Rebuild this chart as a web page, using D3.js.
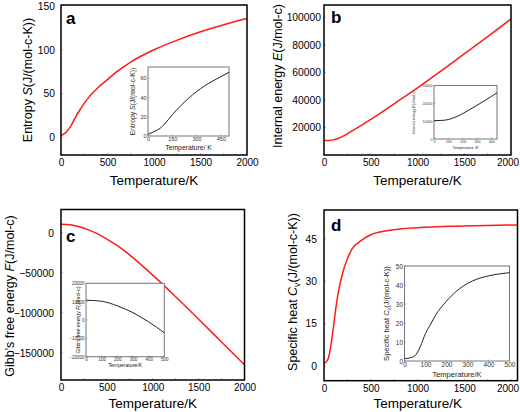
<!DOCTYPE html>
<html><head><meta charset="utf-8">
<script src="https://cdn.jsdelivr.net/npm/d3@7"></script>
<style>body{margin:0;background:#fff}svg{display:block;font-family:"Liberation Sans",Arial,Helvetica,sans-serif}</style>
</head><body><svg id="c" width="520" height="412"></svg>
<script>
// ---------- data ----------
const tempTicks = [0, 500, 1000, 1500, 2000];

const sT = [0, 50, 100, 150, 200, 300, 400, 500, 600, 750, 1000, 1250, 1500, 1750, 2000];
const sVal = [2, 5.5, 12, 22, 31, 46, 57, 66, 75, 86, 100, 111, 120.5, 128.5, 135.5];
const sTicks = [0, 50, 100, 150];
const sInT = [0, 25, 50, 75, 100, 150, 200, 250, 300, 350, 400, 450, 500];
const sInVal = [1.8, 3.5, 5.5, 8, 12, 22, 31, 39, 46, 52, 57, 61.5, 66];
const sInXTicks = [0, 150, 300, 450];
const sInYTicks = [0, 20, 40, 60];

const eT = [0, 50, 100, 150, 200, 300, 400, 500, 600, 750, 1000, 1250, 1500, 1750, 2000];
const eVal = [10500, 10600, 11000, 12000, 13500, 17500, 21500, 25800, 30300, 37200, 48800, 61000, 73500, 86000, 98800];
const eTicks = [20000, 40000, 60000, 80000, 100000];
const eInT = [0, 50, 100, 150, 200, 250, 300, 350, 400, 440];
const eInVal = [10300, 10400, 10900, 12300, 14200, 16500, 18900, 21300, 23800, 25900];
const eInXTicks = [0, 100, 200, 300, 400];
const eInYTicks = [0, 10000, 20000, 30000];

const fT = [0, 100, 200, 300, 400, 500, 600, 750, 1000, 1250, 1500, 1750, 2000];
const fVal = [10500, 10000, 7500, 3500, -1500, -8000, -15000, -28000, -53000, -80000, -108000, -136500, -165000];
const fTicks = [0, -50000, -100000, -150000];
const fInT = [0, 50, 100, 150, 200, 250, 300, 350, 400, 450, 500];
const fInVal = [10800, 10600, 10200, 9200, 7700, 6000, 4000, 1600, -1000, -3900, -7000];
const fInXTicks = [0, 100, 200, 300, 400, 500];
const fInYTicks = [-20000, -10000, 0, 10000, 20000];

const cT = [0, 25, 50, 75, 100, 125, 150, 200, 250, 300, 400, 500, 750, 1000, 1500, 2070];
const cVal = [1, 1.4, 3, 7.5, 13.5, 20, 25.5, 33, 38, 41.5, 44.5, 46.5, 48.3, 49, 49.6, 50];
const cTicks = [0, 15, 30, 45];
const cInT = [0, 25, 50, 75, 100, 125, 150, 200, 250, 300, 350, 400, 450, 500];
const cInVal = [1.3, 1.6, 2.8, 7.5, 14.5, 19.5, 24.5, 31.5, 37, 40.8, 43.3, 44.8, 45.8, 46.5];
const cInXTicks = [0, 100, 200, 300, 400, 500];
const cInYTicks = [0, 10, 20, 30, 40, 50];

// ---------- drawing ----------
const svg = d3.select("#c");
const fmt = v => (v < 0 ? "\u2212" + Math.abs(v) : String(v));

function richText(g, parts, size) {
  const t = g.append("text").attr("font-size", size).attr("fill", "#000");
  parts.forEach(p => {
    const ts = t.append("tspan").text(p.t);
    if (p.i) ts.attr("font-style", "italic");
    if (p.sub) ts.attr("font-size", size * 0.7).attr("dy", size * 0.25);
    if (p.after) ts.attr("dy", -size * 0.25);
  });
  return t;
}

function panel(o) {
  const x = d3.scaleLinear().domain(o.xd).range([o.x0, o.x1]);
  const y = d3.scaleLinear().domain(o.yd).range([o.y1, o.y0]);
  const g = svg.append("g");
  const minor = d3.range(0, o.xd[1] + 1, 250);
  g.append("g").selectAll("line").data(minor).join("line")
    .attr("x1", d => x(d)).attr("x2", d => x(d)).attr("y1", o.y1).attr("y2", o.y1 - 2)
    .attr("stroke", "#888").attr("stroke-width", 0.6);
  g.append("g").selectAll("line").data(o.yt).join("line")
    .attr("x1", o.x0).attr("x2", o.x0 + 2).attr("y1", d => y(d)).attr("y2", d => y(d))
    .attr("stroke", "#888").attr("stroke-width", 0.6);
  const line = d3.line().x(d => x(d[0])).y(d => y(d[1])).curve(d3.curveMonotoneX);
  g.append("path").datum(o.T.map((t, i) => [t, o.V[i]])).attr("d", line)
    .attr("fill", "none").attr("stroke", "#ff1a1a").attr("stroke-width", 1.5);
  g.append("rect").attr("x", o.x0).attr("y", o.y0).attr("width", o.x1 - o.x0).attr("height", o.y1 - o.y0)
    .attr("fill", "none").attr("stroke", "#000").attr("stroke-width", 1.5);
  const ax = g.append("g").attr("transform", `translate(0,${o.y1})`)
    .call(d3.axisBottom(x).tickValues(tempTicks).tickSize(0).tickPadding(o.xpad).tickFormat(d3.format("d")));
  ax.select(".domain").remove();
  ax.selectAll("text").attr("font-size", 10).attr("font-family", null).attr("fill", "#000")
    .attr("dx", d => Math.min(0, 519 - (x(d) + 11.5)));
  const ay = g.append("g").attr("transform", `translate(${o.x0},0)`)
    .call(d3.axisLeft(y).tickValues(o.yt).tickSize(0).tickPadding(o.ypad).tickFormat(fmt));
  ay.select(".domain").remove();
  ay.selectAll("text").attr("font-size", 10.3).attr("font-family", null).attr("fill", "#000");
  g.append("text").attr("x", (o.x0 + o.x1) / 2 + o.xtdx).attr("y", o.y1 + o.xty).attr("text-anchor", "middle")
    .attr("font-size", 13.5).text("Temperature/K");
  richText(g, o.ytitle, 12.5).attr("text-anchor", "middle")
    .attr("transform", `translate(${o.ytx},${o.yty}) rotate(-90)`);
  g.append("text").attr("x", o.lx).attr("y", o.ly).attr("font-size", 17).attr("font-weight", "bold").text(o.letter);
  const I = o.inset;
  const ix = d3.scaleLinear().domain(I.xd).range([I.x0, I.x1]);
  const iy = d3.scaleLinear().domain(I.yd).range([I.y1, I.y0]);
  const ig = svg.append("g");
  ig.append("rect").attr("x", I.x0).attr("y", I.y0).attr("width", I.x1 - I.x0).attr("height", I.y1 - I.y0)
    .attr("fill", "#fff").attr("stroke", "#777").attr("stroke-width", 1);
  ig.append("g").selectAll("line").data(I.xt).join("line")
    .attr("x1", d => ix(d)).attr("x2", d => ix(d)).attr("y1", I.y1).attr("y2", I.y1 - 1.5)
    .attr("stroke", "#777").attr("stroke-width", 0.5);
  ig.append("g").selectAll("line").data(I.yt).join("line")
    .attr("x1", I.x0).attr("x2", I.x0 + 1.5).attr("y1", d => iy(d)).attr("y2", d => iy(d))
    .attr("stroke", "#777").attr("stroke-width", 0.5);
  const il = d3.line().x(d => ix(d[0])).y(d => iy(d[1])).curve(d3.curveMonotoneX);
  ig.append("path").datum(I.T.map((t, i) => [t, I.V[i]])).attr("d", il)
    .attr("fill", "none").attr("stroke", "#222").attr("stroke-width", 1);
  const iax = ig.append("g").attr("transform", `translate(0,${I.y1})`)
    .call(d3.axisBottom(ix).tickValues(I.xt).tickSize(0).tickPadding(1.5).tickFormat(d3.format("d")));
  iax.select(".domain").remove();
  iax.selectAll("text").attr("font-size", I.fs).attr("font-family", null).attr("fill", "#333");
  const iay = ig.append("g").attr("transform", `translate(${I.x0},0)`)
    .call(d3.axisLeft(iy).tickValues(I.yt).tickSize(0).tickPadding(1.5).tickFormat(fmt));
  iay.select(".domain").remove();
  iay.selectAll("text").attr("font-size", I.fs).attr("font-family", null).attr("fill", "#333");
  ig.append("text").attr("x", (I.x0 + I.x1) / 2).attr("y", I.xty).attr("text-anchor", "middle")
    .attr("font-size", I.tfs).attr("fill", "#222").text(I.xtitle);
  richText(ig, o.ytitle, I.tfs).attr("text-anchor", "middle").attr("fill", "#222")
    .attr("transform", `translate(${I.ytx},${(I.y0 + I.y1) / 2}) rotate(-90)`);
}

panel({
  letter: "a", lx: 66, ly: 24, x0: 61, x1: 247, y0: 5, y1: 155, xd: [0, 2000], yd: [-20, 151], yt: sTicks,
  T: sT, V: sVal, xpad: 4, ypad: 6, xtdx: 0, xty: 30, ytx: 32, yty: 80,
  ytitle: [{t: "Entropy "}, {t: "S", i: true}, {t: "(J/(mol-c-K))"}],
  inset: {x0: 148, x1: 229, y0: 67, y1: 136, xd: [0, 500], yd: [0, 71.5], xt: sInXTicks, yt: sInYTicks,
    T: sInT, V: sInVal, fs: 5.5, tfs: 6.8, xty: 150, ytx: 135, xtitle: "Temperature/ K"}
});
panel({
  letter: "b", lx: 331, ly: 23, x0: 324, x1: 511, y0: 5, y1: 155, xd: [0, 2000], yd: [0, 109000], yt: eTicks,
  T: eT, V: eVal, xpad: 4, ypad: 3, xtdx: 0, xty: 30, ytx: 282, yty: 76,
  ytitle: [{t: "Internal energy "}, {t: "E", i: true}, {t: "(J/mol-c)"}],
  inset: {x0: 434, x1: 497, y0: 85.5, y1: 139, xd: [0, 440], yd: [0, 30000], xt: eInXTicks, yt: eInYTicks,
    T: eInT, V: eInVal, fs: 3.6, tfs: 3.8, xty: 149, ytx: 415, xtitle: "Temperature /K"}
});
panel({
  letter: "c", lx: 66, ly: 242, x0: 61, x1: 244.5, y0: 209.5, y1: 380, xd: [0, 2000], yd: [-184000, 29000], yt: fTicks,
  T: fT, V: fVal, xpad: 4, ypad: 7, xtdx: 0, xty: 27.5, ytx: 14, yty: 296,
  ytitle: [{t: "Gibb's free energy "}, {t: "F", i: true}, {t: "(J/mol-c)"}],
  inset: {x0: 86, x1: 164.3, y0: 283.3, y1: 356.7, xd: [0, 500], yd: [-20000, 20000], xt: fInXTicks, yt: fInYTicks,
    T: fInT, V: fInVal, fs: 4.5, tfs: 5.2, xty: 367, ytx: 80, xtitle: "Temperature/K"}
});
panel({
  letter: "d", lx: 331, ly: 231, x0: 324, x1: 517.5, y0: 210, y1: 380.7, xd: [0, 2069], yd: [-5.3, 55.3], yt: cTicks,
  T: cT, V: cVal, xpad: 4, ypad: 7, xtdx: -3, xty: 27, ytx: 297, yty: 292,
  ytitle: [{t: "Specific heat "}, {t: "C", i: true}, {t: "v", sub: true}, {t: "(J/(mol-c-K))", after: true}],
  inset: {x0: 404.5, x1: 509.5, y0: 266, y1: 361, xd: [0, 500], yd: [0, 50], xt: cInXTicks, yt: cInYTicks,
    T: cInT, V: cInVal, fs: 6.5, tfs: 7.5, xty: 377, ytx: 389, xtitle: "Temperature/K"}
});
</script></body></html>
